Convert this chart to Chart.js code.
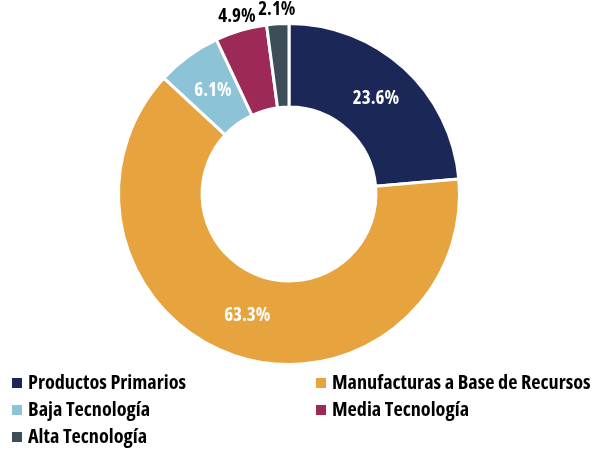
<!DOCTYPE html>
<html>
<head>
<meta charset="utf-8">
<script src="https://cdn.jsdelivr.net/npm/chart.js@4"></script>
<style>
  html, body { margin: 0; padding: 0; background: #fff; }
  #wrap { width: 593px; height: 450px; }
</style>
</head>
<body>
<div id="wrap"><canvas id="exportChart" width="593" height="450"></canvas></div>
<script>
// Export shares by technology level (%)
const categories = [
    "Productos Primarios",
    "Manufacturas a Base de Recursos",
    "Baja Tecnología",
    "Media Tecnología",
    "Alta Tecnología"
];
const shares = [23.6, 63.3, 6.1, 4.9, 2.1];
const sliceColors = ["#1b2756", "#e7a33e", "#8cc3d7", "#9d2a56", "#3e4e59"];

const FONT = "'Open Sans', 'Liberation Sans Narrow', sans-serif";

function setFont(ctx, size) {
    ctx.font = "bold " + size + "px " + FONT;
    ctx.fontStretch = "condensed";
}

// Percentage labels: inside for big slices, above the ring for the small ones
const sliceLabels = {
    id: "sliceLabels",
    afterDatasetsDraw(chart) {
        const ctx = chart.ctx;
        const meta = chart.getDatasetMeta(0);
        ctx.save();
        setFont(ctx, 19);
        ctx.textAlign = "center";
        ctx.textBaseline = "middle";
        meta.data.forEach((arc, i) => {
            const p = arc.getProps(["x", "y", "startAngle", "endAngle", "innerRadius", "outerRadius"], true);
            const mid = (p.startAngle + p.endAngle) / 2;
            const value = shares[i];
            let r, color;
            if (value < 5.5) {
                r = p.outerRadius + 14;
                color = "#000";
            } else {
                r = (p.innerRadius + p.outerRadius) / 2;
                color = "#fff";
            }
            const x = p.x + Math.cos(mid) * r;
            const y = p.y + Math.sin(mid) * r;
            ctx.fillStyle = color;
            ctx.fillText(value.toFixed(1) + "%", x, y);
        });
        ctx.restore();
    }
};

// Two-column legend under the doughnut
const gridLegend = {
    id: "gridLegend",
    afterDraw(chart) {
        const ctx = chart.ctx;
        const colX = [12, 316];
        const rowY = [383, 410, 437];
        ctx.save();
        setFont(ctx, 20.2);
        ctx.textAlign = "left";
        ctx.textBaseline = "middle";
        categories.forEach((name, i) => {
            const x = colX[i % 2];
            const y = rowY[Math.floor(i / 2)];
            ctx.fillStyle = sliceColors[i];
            ctx.fillRect(x, y - 5, 10, 10);
            ctx.fillStyle = "#000";
            ctx.fillText(name, x + 16, y);
        });
        ctx.restore();
    }
};

new Chart(document.getElementById("exportChart"), {
    type: "doughnut",
    data: {
        labels: categories,
        datasets: [{
            data: shares,
            backgroundColor: sliceColors,
            borderColor: "#ffffff",
            borderWidth: 3,
            hoverOffset: 0
        }]
    },
    options: {
        responsive: false,
        animation: false,
        cutout: "51%",
        layout: { padding: { top: 22, bottom: 84, left: 0, right: 15 } },
        plugins: {
            legend: { display: false },
            tooltip: { enabled: false }
        }
    },
    plugins: [sliceLabels, gridLegend]
});
</script>
</body>
</html>
